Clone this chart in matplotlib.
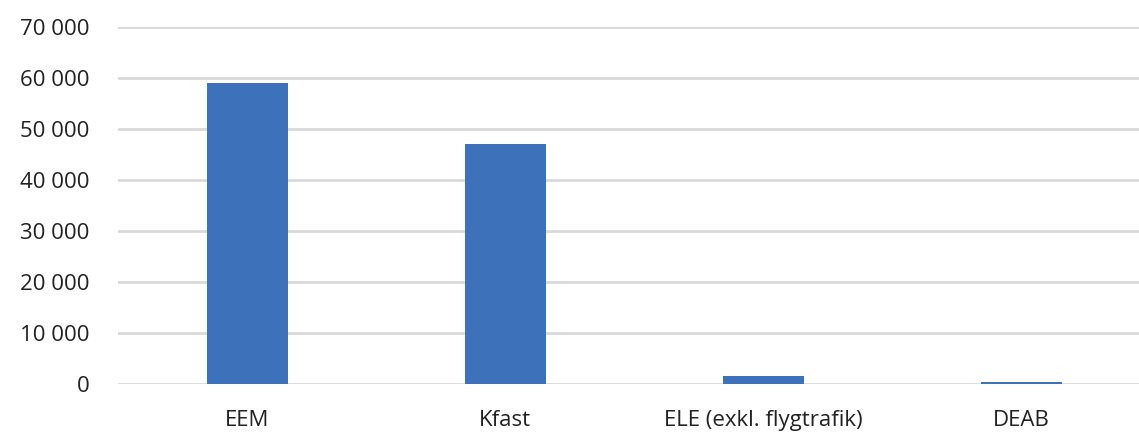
import matplotlib
matplotlib.use('Agg')
import matplotlib.pyplot as plt
from matplotlib.ticker import FuncFormatter

categories = ['EEM', 'Kfast', 'ELE (exkl. flygtrafik)', 'DEAB']
values = [59000, 47000, 1550, 400]
yticks = [0, 10000, 20000, 30000, 40000, 50000, 60000, 70000]

plt.rcParams['font.family'] = ['Open Sans', 'DejaVu Sans']

fig = plt.figure(figsize=(11.39, 4.34), dpi=100)
ax = fig.add_axes([0.104, 0.115, 0.906, 0.823])

x = range(len(categories))
ax.bar(x, values, width=0.314, color='#3d72ba', zorder=3)

ax.set_xlim(-0.5, len(categories) - 0.5)
ax.set_ylim(0, 70000)
ax.set_yticks(yticks)
ax.yaxis.set_major_formatter(FuncFormatter(lambda v, p: f'{int(v):,}'.replace(',', ' ')))
ax.set_xticks(list(x))
ax.set_xticklabels(categories)

ax.grid(axis='y', color='#d9d9d9', linewidth=2, zorder=0)
for s in ax.spines.values():
    s.set_visible(False)
ax.tick_params(axis='both', length=0, labelsize=16, colors='#222222')
ax.tick_params(axis='y', pad=21)
ax.tick_params(axis='x', pad=19)

fig.savefig('out.png', dpi=100)
